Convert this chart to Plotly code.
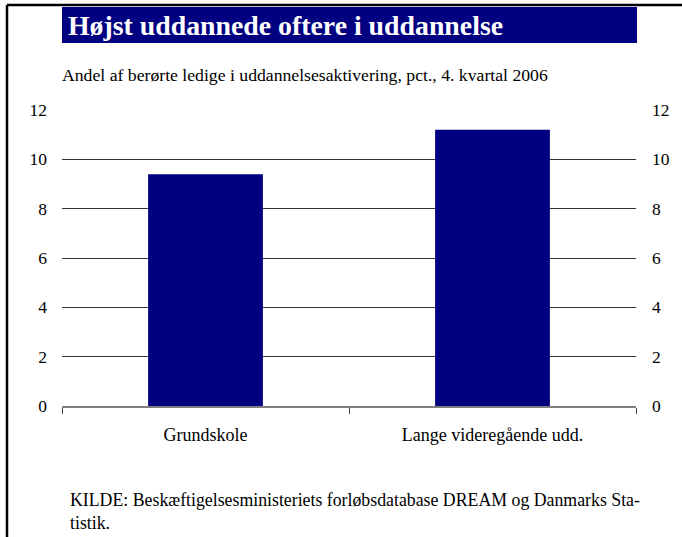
import plotly.graph_objects as go

categories = ["Grundskole", "Lange videregående udd."]
values = [9.4, 11.2]
y_ticks = [0, 2, 4, 6, 8, 10, 12]

title = "Højst uddannede oftere i uddannelse"
subtitle = "Andel af berørte ledige i uddannelsesaktivering, pct., 4. kvartal 2006"
source = "KILDE: Beskæftigelsesministeriets forløbsdatabase DREAM og Danmarks Sta-<br>tistik."

W, H = 682, 537
L, R, T, B = 62, 46, 110, 131
pw, ph = W - L - R, H - T - B

def px(x):
    return (x - L) / pw

def py(y):
    return (H - B - y) / ph

FONT = "'Liberation Serif', 'DejaVu Serif', serif"
FS = 17.5

fig = go.Figure()
fig.add_trace(go.Bar(x=categories, y=values, marker=dict(color="#000080", line=dict(width=0)),
                     width=0.4, showlegend=False, hoverinfo="skip"))
fig.add_trace(go.Bar(x=categories, y=values, yaxis="y2", opacity=0, showlegend=False,
                     hoverinfo="skip", width=0.4))

fig.update_layout(
    width=W, height=H,
    margin=dict(l=L, r=R, t=T, b=B, pad=0),
    paper_bgcolor="white", plot_bgcolor="white",
    font=dict(family=FONT, size=FS, color="black"),
    barmode="overlay",
    xaxis=dict(showgrid=False, showline=True, linecolor="#808080", linewidth=1.5,
               ticks="outside", tickson="boundaries", ticklen=6, tickcolor="#404040",
               tickfont=dict(size=18, family=FONT), ticklabelstandoff=12,
               zeroline=False),
    yaxis=dict(range=[0, 12], tickvals=y_ticks, showgrid=True, gridcolor="#333333",
               gridwidth=1, zeroline=False, showline=False, ticks="",
               tickfont=dict(size=FS, family=FONT), ticklabelstandoff=14),
    yaxis2=dict(range=[0, 12], tickvals=y_ticks, overlaying="y", side="right",
                showgrid=False, zeroline=False, showline=False, ticks="",
                tickfont=dict(size=FS, family=FONT), ticklabelstandoff=15),
)

# Frame lines (top and left)
fig.add_shape(type="line", xref="paper", yref="paper", x0=px(7), x1=px(682), y0=py(5), y1=py(5),
              line=dict(color="black", width=2.5))
fig.add_shape(type="line", xref="paper", yref="paper", x0=px(7), x1=px(7), y0=py(5), y1=py(537),
              line=dict(color="black", width=2.5))
# Title banner
fig.add_shape(type="rect", xref="paper", yref="paper", x0=px(62), x1=px(637), y0=py(43), y1=py(7),
              fillcolor="#000080", line=dict(width=0), layer="below")
fig.add_annotation(text="<b>" + title + "</b>", xref="paper", yref="paper", x=px(66), y=py(25),
                   xanchor="left", yanchor="middle", showarrow=False,
                   font=dict(family=FONT, size=27.8, color="white"))
fig.add_annotation(text=subtitle, xref="paper", yref="paper", x=px(60), y=py(75),
                   xanchor="left", yanchor="middle", showarrow=False,
                   font=dict(family=FONT, size=17.7, color="black"))
fig.add_annotation(text=source, xref="paper", yref="paper", x=px(68), y=py(511),
                   xanchor="left", yanchor="middle", showarrow=False, align="left",
                   font=dict(family=FONT, size=17.8, color="black"))

fig.write_html("out.html", config={"displayModeBar": False},
               post_script="document.body.style.margin='0';document.body.style.overflow='hidden';")
